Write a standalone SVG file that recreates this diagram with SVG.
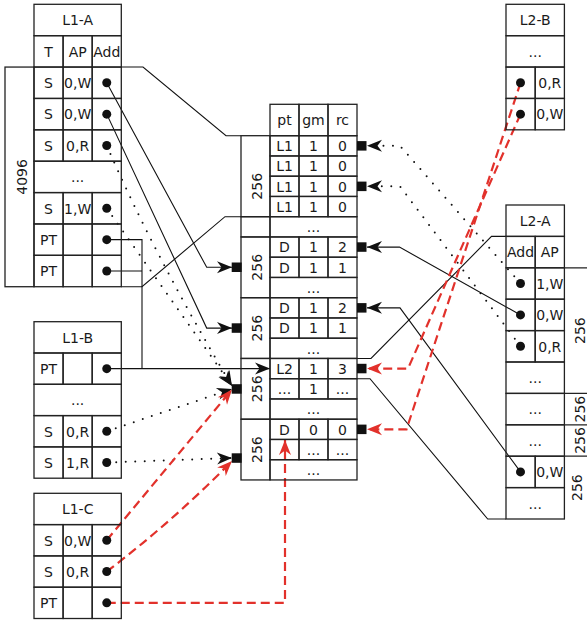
<svg xmlns="http://www.w3.org/2000/svg" width="587" height="620" viewBox="0 0 587 620">
<style>
.c{fill:none;stroke:#222;stroke-width:1.3}
.t{font-family:"DejaVu Sans","Liberation Sans",sans-serif;font-size:14px;fill:#1a1a1a;text-anchor:middle}
.dot{fill:#111}
.port{fill:#111}
.sl{fill:none;stroke:#111;stroke-width:1.1}
.dl{fill:none;stroke:#111;stroke-width:2;stroke-dasharray:0 9.5;stroke-linecap:round}
.rl{fill:none;stroke:#e2312b;stroke-width:2.2;stroke-dasharray:9 5}
</style>
<defs>
<marker id="ah" viewBox="-16 -7 17 14" refX="0" refY="0" markerWidth="17" markerHeight="14" markerUnits="userSpaceOnUse" orient="auto"><path d="M0,0 L-15,-6 L-10.5,0 L-15,6 Z" fill="#111"/></marker>
<marker id="ahr" viewBox="-16 -7 17 14" refX="0" refY="0" markerWidth="17" markerHeight="14" markerUnits="userSpaceOnUse" orient="auto"><path d="M0,0 L-15,-6 L-10.5,0 L-15,6 Z" fill="#e2312b"/></marker>
</defs>
<rect width="587" height="620" fill="#fff"/>

<g id="connectors">
<!-- brackets -->
<polyline class="sl" points="121.3,67.06 143,67.06 226,135.7 241,135.7"/>
<polyline class="sl" points="121.3,286.72 142,286.72 225,216.7 241,216.7"/>
<polyline class="sl" points="357,358.45 371,358.45 491.5,236.4 506,236.4"/>
<polyline class="sl" points="357,378.7 370,378.7 487.7,519 506,519"/>
<!-- solid -->
<path class="sl" d="M106.75,82.75 L206.7,267.3 L232,267.3" marker-end="url(#ah)"/>
<path class="sl" d="M106.75,114.13 L206.7,328.1 L232,328.1" marker-end="url(#ah)"/>
<path class="sl" d="M106.75,239.65 L142,239.65 L142,368.6 M106.75,271.03 L142,271.03"/>
<path class="sl" d="M106.75,368.65 L270,368.6" marker-end="url(#ah)"/>
<path class="sl" d="M520.5,314.9 L399.5,247.08 L367,247.08" marker-end="url(#ah)"/>
<path class="sl" d="M520.5,471.9 L400,307.83 L367,307.83" marker-end="url(#ah)"/>
<!-- dotted -->
<path class="dl" d="M520.5,283.5 L400,145.83 L367,145.83" marker-end="url(#ah)"/>
<path class="dl" d="M520.5,346.3 L400,186.33 L367,186.33" marker-end="url(#ah)"/>
<path class="dl" d="M106.75,145.51 Q155,257 232,386" marker-end="url(#ah)"/>
<path class="dl" d="M106.75,208.27 L232,386" marker-end="url(#ah)"/>
<path class="dl" d="M106.75,431.25 L232,389" marker-end="url(#ah)"/>
<path class="dl" d="M106.75,462.55 L232,458" marker-end="url(#ah)"/>
<!-- red dashed -->
<path class="rl" d="M106.75,540.25 L232,389.5" marker-end="url(#ahr)"/>
<path class="rl" d="M106.75,571.55 Q172,522 232,461" marker-end="url(#ahr)"/>
<path class="rl" d="M106.75,602.85 L285,602.85 L285,440" marker-end="url(#ahr)"/>
<path class="rl" d="M520.5,114.13 L408,368.58 L367,368.58" marker-end="url(#ahr)"/>
<path class="rl" d="M520.5,82.75 L406.5,429.33 L367,429.33" marker-end="url(#ahr)"/>
</g>

<g id="n-l1a">
<rect class="c" x="5" y="67.06" width="29" height="219.66"/>
<text class="t" transform="translate(26.5,176.9) rotate(-90)">4096</text>
<rect class="c" x="34" y="4.3" width="87.3" height="31.38"/>
<rect class="c" x="34" y="35.68" width="29.1" height="31.38"/><rect class="c" x="63.1" y="35.68" width="29.1" height="31.38"/><rect class="c" x="92.2" y="35.68" width="29.1" height="31.38"/>
<rect class="c" x="34" y="67.06" width="29.1" height="31.38"/><rect class="c" x="63.1" y="67.06" width="29.1" height="31.38"/><rect class="c" x="92.2" y="67.06" width="29.1" height="31.38"/>
<rect class="c" x="34" y="98.44" width="29.1" height="31.38"/><rect class="c" x="63.1" y="98.44" width="29.1" height="31.38"/><rect class="c" x="92.2" y="98.44" width="29.1" height="31.38"/>
<rect class="c" x="34" y="129.82" width="29.1" height="31.38"/><rect class="c" x="63.1" y="129.82" width="29.1" height="31.38"/><rect class="c" x="92.2" y="129.82" width="29.1" height="31.38"/>
<rect class="c" x="34" y="161.2" width="87.3" height="31.38"/>
<rect class="c" x="34" y="192.58" width="29.1" height="31.38"/><rect class="c" x="63.1" y="192.58" width="29.1" height="31.38"/><rect class="c" x="92.2" y="192.58" width="29.1" height="31.38"/>
<rect class="c" x="34" y="223.96" width="29.1" height="31.38"/><rect class="c" x="63.1" y="223.96" width="29.1" height="31.38"/><rect class="c" x="92.2" y="223.96" width="29.1" height="31.38"/>
<rect class="c" x="34" y="255.34" width="29.1" height="31.38"/><rect class="c" x="63.1" y="255.34" width="29.1" height="31.38"/><rect class="c" x="92.2" y="255.34" width="29.1" height="31.38"/>
<text class="t" x="77.65" y="25.3">L1-A</text>
<text class="t" x="48.55" y="56.7">T</text><text class="t" x="77.65" y="56.7">AP</text><text class="t" x="106.75" y="56.7">Add</text>
<text class="t" x="48.55" y="88.05">S</text><text class="t" x="77.65" y="88.05">0,W</text><circle class="dot" cx="106.75" cy="82.75" r="4.5"/>
<text class="t" x="48.55" y="119.4">S</text><text class="t" x="77.65" y="119.4">0,W</text><circle class="dot" cx="106.75" cy="114.13" r="4.5"/>
<text class="t" x="48.55" y="150.8">S</text><text class="t" x="77.65" y="150.8">0,R</text><circle class="dot" cx="106.75" cy="145.51" r="4.5"/>
<text class="t" x="77.65" y="182.2">...</text>
<text class="t" x="48.55" y="213.6">S</text><text class="t" x="77.65" y="213.6">1,W</text><circle class="dot" cx="106.75" cy="208.27" r="4.5"/>
<text class="t" x="48.55" y="245">PT</text><circle class="dot" cx="106.75" cy="239.65" r="4.5"/>
<text class="t" x="48.55" y="276.3">PT</text><circle class="dot" cx="106.75" cy="271.03" r="4.5"/>
</g>

<g id="n-l1b">
<rect class="c" x="34" y="321.7" width="87.3" height="31.3"/>
<rect class="c" x="34" y="353" width="29.1" height="31.3"/><rect class="c" x="63.1" y="353" width="29.1" height="31.3"/><rect class="c" x="92.2" y="353" width="29.1" height="31.3"/>
<rect class="c" x="34" y="384.3" width="87.3" height="31.3"/>
<rect class="c" x="34" y="415.6" width="29.1" height="31.3"/><rect class="c" x="63.1" y="415.6" width="29.1" height="31.3"/><rect class="c" x="92.2" y="415.6" width="29.1" height="31.3"/>
<rect class="c" x="34" y="446.9" width="29.1" height="31.3"/><rect class="c" x="63.1" y="446.9" width="29.1" height="31.3"/><rect class="c" x="92.2" y="446.9" width="29.1" height="31.3"/>
<text class="t" x="77.65" y="342.6">L1-B</text>
<text class="t" x="48.55" y="373.9">PT</text><circle class="dot" cx="106.75" cy="368.65" r="4.5"/>
<text class="t" x="77.65" y="405.2">...</text>
<text class="t" x="48.55" y="436.5">S</text><text class="t" x="77.65" y="436.5">0,R</text><circle class="dot" cx="106.75" cy="431.25" r="4.5"/>
<text class="t" x="48.55" y="467.8">S</text><text class="t" x="77.65" y="467.8">1,R</text><circle class="dot" cx="106.75" cy="462.55" r="4.5"/>
</g>

<g id="n-l1c">
<rect class="c" x="34" y="493.3" width="87.3" height="31.3"/>
<rect class="c" x="34" y="524.6" width="29.1" height="31.3"/><rect class="c" x="63.1" y="524.6" width="29.1" height="31.3"/><rect class="c" x="92.2" y="524.6" width="29.1" height="31.3"/>
<rect class="c" x="34" y="555.9" width="29.1" height="31.3"/><rect class="c" x="63.1" y="555.9" width="29.1" height="31.3"/><rect class="c" x="92.2" y="555.9" width="29.1" height="31.3"/>
<rect class="c" x="34" y="587.2" width="29.1" height="31.3"/><rect class="c" x="63.1" y="587.2" width="29.1" height="31.3"/><rect class="c" x="92.2" y="587.2" width="29.1" height="31.3"/>
<text class="t" x="77.65" y="514.2">L1-C</text>
<text class="t" x="48.55" y="545.5">S</text><text class="t" x="77.65" y="545.5">0,W</text><circle class="dot" cx="106.75" cy="540.25" r="4.5"/>
<text class="t" x="48.55" y="576.8">S</text><text class="t" x="77.65" y="576.8">0,R</text><circle class="dot" cx="106.75" cy="571.55" r="4.5"/>
<text class="t" x="48.55" y="608.1">PT</text><circle class="dot" cx="106.75" cy="602.85" r="4.5"/>
</g>

<g id="n-pt">
<rect class="c" x="270" y="104.3" width="29" height="31.4"/><rect class="c" x="299" y="104.3" width="29" height="31.4"/><rect class="c" x="328" y="104.3" width="29" height="31.4"/>
<text class="t" x="284.5" y="125.3">pt</text><text class="t" x="313.5" y="125.3">gm</text><text class="t" x="342.5" y="125.3">rc</text>
<rect class="c" x="241" y="135.7" width="29" height="81"/>
<rect class="c" x="241" y="216.7" width="29" height="20.25"/>
<rect class="c" x="241" y="236.95" width="29" height="60.75"/>
<rect class="c" x="241" y="297.7" width="29" height="60.75"/>
<rect class="c" x="241" y="358.45" width="29" height="60.75"/>
<rect class="c" x="241" y="419.2" width="29" height="60.75"/>
<text class="t" transform="translate(262,186.3) rotate(-90)">256</text>
<text class="t" transform="translate(262,267.3) rotate(-90)">256</text>
<text class="t" transform="translate(262,328.1) rotate(-90)">256</text>
<text class="t" transform="translate(262,388.8) rotate(-90)">256</text>
<text class="t" transform="translate(262,449.6) rotate(-90)">256</text>
<g>
<rect class="c" x="270" y="135.7" width="29" height="20.25"/><rect class="c" x="299" y="135.7" width="29" height="20.25"/><rect class="c" x="328" y="135.7" width="29" height="20.25"/>
<rect class="c" x="270" y="155.95" width="29" height="20.25"/><rect class="c" x="299" y="155.95" width="29" height="20.25"/><rect class="c" x="328" y="155.95" width="29" height="20.25"/>
<rect class="c" x="270" y="176.2" width="29" height="20.25"/><rect class="c" x="299" y="176.2" width="29" height="20.25"/><rect class="c" x="328" y="176.2" width="29" height="20.25"/>
<rect class="c" x="270" y="196.45" width="29" height="20.25"/><rect class="c" x="299" y="196.45" width="29" height="20.25"/><rect class="c" x="328" y="196.45" width="29" height="20.25"/>
<rect class="c" x="270" y="216.7" width="87" height="20.25"/>
<rect class="c" x="270" y="236.95" width="29" height="20.25"/><rect class="c" x="299" y="236.95" width="29" height="20.25"/><rect class="c" x="328" y="236.95" width="29" height="20.25"/>
<rect class="c" x="270" y="257.2" width="29" height="20.25"/><rect class="c" x="299" y="257.2" width="29" height="20.25"/><rect class="c" x="328" y="257.2" width="29" height="20.25"/>
<rect class="c" x="270" y="277.45" width="87" height="20.25"/>
<rect class="c" x="270" y="297.7" width="29" height="20.25"/><rect class="c" x="299" y="297.7" width="29" height="20.25"/><rect class="c" x="328" y="297.7" width="29" height="20.25"/>
<rect class="c" x="270" y="317.95" width="29" height="20.25"/><rect class="c" x="299" y="317.95" width="29" height="20.25"/><rect class="c" x="328" y="317.95" width="29" height="20.25"/>
<rect class="c" x="270" y="338.2" width="87" height="20.25"/>
<rect class="c" x="270" y="358.45" width="29" height="20.25"/><rect class="c" x="299" y="358.45" width="29" height="20.25"/><rect class="c" x="328" y="358.45" width="29" height="20.25"/>
<rect class="c" x="270" y="378.7" width="29" height="20.25"/><rect class="c" x="299" y="378.7" width="29" height="20.25"/><rect class="c" x="328" y="378.7" width="29" height="20.25"/>
<rect class="c" x="270" y="398.95" width="87" height="20.25"/>
<rect class="c" x="270" y="419.2" width="29" height="20.25"/><rect class="c" x="299" y="419.2" width="29" height="20.25"/><rect class="c" x="328" y="419.2" width="29" height="20.25"/>
<rect class="c" x="270" y="439.45" width="29" height="20.25"/><rect class="c" x="299" y="439.45" width="29" height="20.25"/><rect class="c" x="328" y="439.45" width="29" height="20.25"/>
<rect class="c" x="270" y="459.7" width="87" height="20.25"/>
</g>
<text class="t" x="284.5" y="151">L1</text><text class="t" x="313.5" y="151">1</text><text class="t" x="342.5" y="151">0</text>
<text class="t" x="284.5" y="171.3">L1</text><text class="t" x="313.5" y="171.3">1</text><text class="t" x="342.5" y="171.3">0</text>
<text class="t" x="284.5" y="191.5">L1</text><text class="t" x="313.5" y="191.5">1</text><text class="t" x="342.5" y="191.5">0</text>
<text class="t" x="284.5" y="211.8">L1</text><text class="t" x="313.5" y="211.8">1</text><text class="t" x="342.5" y="211.8">0</text>
<text class="t" x="313.5" y="232">...</text>
<text class="t" x="284.5" y="252.3">D</text><text class="t" x="313.5" y="252.3">1</text><text class="t" x="342.5" y="252.3">2</text>
<text class="t" x="284.5" y="272.5">D</text><text class="t" x="313.5" y="272.5">1</text><text class="t" x="342.5" y="272.5">1</text>
<text class="t" x="313.5" y="292.8">...</text>
<text class="t" x="284.5" y="313">D</text><text class="t" x="313.5" y="313">1</text><text class="t" x="342.5" y="313">2</text>
<text class="t" x="284.5" y="333.3">D</text><text class="t" x="313.5" y="333.3">1</text><text class="t" x="342.5" y="333.3">1</text>
<text class="t" x="313.5" y="353.5">...</text>
<text class="t" x="284.5" y="373.8">L2</text><text class="t" x="313.5" y="373.8">1</text><text class="t" x="342.5" y="373.8">3</text>
<text class="t" x="284.5" y="394">...</text><text class="t" x="313.5" y="394">1</text><text class="t" x="342.5" y="394">...</text>
<text class="t" x="313.5" y="414.3">...</text>
<text class="t" x="284.5" y="434.5">D</text><text class="t" x="313.5" y="434.5">0</text><text class="t" x="342.5" y="434.5">0</text>
<text class="t" x="313.5" y="454.8">...</text><text class="t" x="342.5" y="454.8">...</text>
<text class="t" x="313.5" y="475">...</text>
<rect class="port" x="231.7" y="262.5" width="10" height="9.5"/>
<rect class="port" x="231.7" y="323.3" width="10" height="9.5"/>
<rect class="port" x="231.7" y="384.2" width="10" height="9.5"/>
<rect class="port" x="231.7" y="453.3" width="10" height="9.5"/>
<rect class="port" x="357" y="141.1" width="9.5" height="9.5"/>
<rect class="port" x="357" y="181.6" width="9.5" height="9.5"/>
<rect class="port" x="357" y="242.3" width="9.5" height="9.5"/>
<rect class="port" x="357" y="303.1" width="9.5" height="9.5"/>
<rect class="port" x="357" y="363.8" width="9.5" height="9.5"/>
<rect class="port" x="357" y="424.6" width="9.5" height="9.5"/>
</g>

<g id="n-l2b">
<rect class="c" x="506" y="4.3" width="58.4" height="31.38"/>
<rect class="c" x="506" y="35.68" width="58.4" height="31.38"/>
<rect class="c" x="506" y="67.06" width="29.2" height="31.38"/><rect class="c" x="535.2" y="67.06" width="29.2" height="31.38"/>
<rect class="c" x="506" y="98.44" width="29.2" height="31.38"/><rect class="c" x="535.2" y="98.44" width="29.2" height="31.38"/>
<text class="t" x="535.2" y="25.3">L2-B</text>
<text class="t" x="535.2" y="56.7">...</text>
<circle class="dot" cx="520.5" cy="82.75" r="4.5"/><text class="t" x="549.8" y="88.05">0,R</text>
<circle class="dot" cx="520.5" cy="114.13" r="4.5"/><text class="t" x="549.8" y="119.4">0,W</text>
</g>

<g id="n-l2a">
<rect class="c" x="506" y="205" width="58.4" height="31.4"/>
<rect class="c" x="506" y="236.4" width="29.2" height="31.4"/><rect class="c" x="535.2" y="236.4" width="29.2" height="31.4"/>
<rect class="c" x="506" y="267.8" width="29.2" height="31.4"/><rect class="c" x="535.2" y="267.8" width="29.2" height="31.4"/>
<rect class="c" x="506" y="299.2" width="29.2" height="31.4"/><rect class="c" x="535.2" y="299.2" width="29.2" height="31.4"/>
<rect class="c" x="506" y="330.6" width="29.2" height="31.4"/><rect class="c" x="535.2" y="330.6" width="29.2" height="31.4"/>
<rect class="c" x="506" y="362" width="58.4" height="31.4"/>
<rect class="c" x="506" y="393.4" width="58.4" height="31.4"/>
<rect class="c" x="506" y="424.8" width="58.4" height="31.4"/>
<rect class="c" x="506" y="456.2" width="29.2" height="31.4"/><rect class="c" x="535.2" y="456.2" width="29.2" height="31.4"/>
<rect class="c" x="506" y="487.6" width="58.4" height="31.4"/>
<path class="c" d="M564.4,267.8 H587 M564.4,393.4 H587 M564.4,424.8 H587 M564.4,456.2 H587"/>
<text class="t" x="535.2" y="226">L2-A</text>
<text class="t" x="520.6" y="257.4">Add</text><text class="t" x="549.8" y="257.4">AP</text>
<circle class="dot" cx="520.5" cy="283.5" r="4.5"/><text class="t" x="549.8" y="288.8">1,W</text>
<circle class="dot" cx="520.5" cy="314.9" r="4.5"/><text class="t" x="549.8" y="320.2">0,W</text>
<circle class="dot" cx="520.5" cy="346.3" r="4.5"/><text class="t" x="549.8" y="351.6">0,R</text>
<text class="t" x="535.2" y="383">...</text>
<text class="t" x="535.2" y="414.4">...</text>
<text class="t" x="535.2" y="445.8">...</text>
<circle class="dot" cx="520.5" cy="471.9" r="4.5"/><text class="t" x="549.8" y="477.2">0,W</text>
<text class="t" x="535.2" y="508.6">...</text>
<text class="t" transform="translate(585,330.6) rotate(-90)">256</text>
<text class="t" transform="translate(585,409.1) rotate(-90)">256</text>
<text class="t" transform="translate(585,440.5) rotate(-90)">256</text>
<text class="t" transform="translate(582,487.6) rotate(-90)">256</text>
</g>
</svg>
